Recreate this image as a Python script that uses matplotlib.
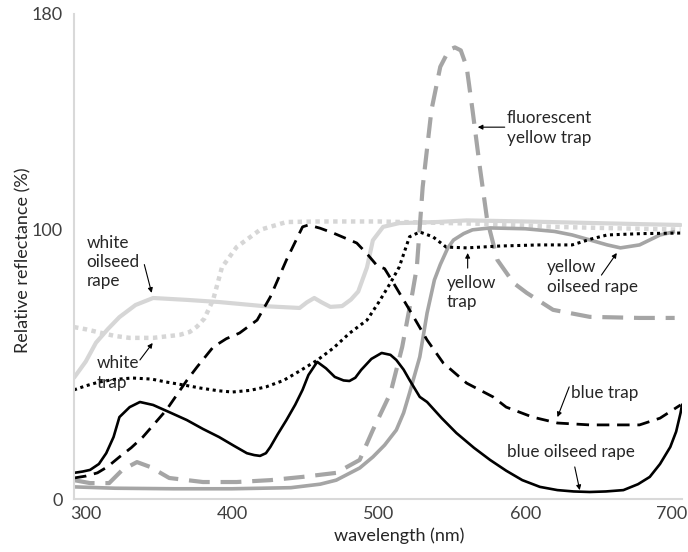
import matplotlib

matplotlib.use("Agg")
import matplotlib.pyplot as plt

plt.rcParams["font.family"] = ["Lato", "DejaVu Sans"]

# white oilseed rape (light grey solid)
wor_wl = [292, 300, 307, 315, 323, 334, 346, 369, 391, 421, 446, 451, 456, 461, 467,
          475, 481, 486, 492, 496, 503, 514, 540, 560, 600, 640, 680, 706]
wor_val = [45, 51, 58, 63, 67.5, 72, 74.6, 73.9, 73.1, 71.6, 70.9, 73, 74.6, 73, 71.3,
           71.6, 74, 77, 86, 96, 101, 102.4, 102.8, 103.4, 103, 102.5, 102, 101.7]

# white trap (light grey dotted)
wt_wl = [292, 300, 311, 320, 330, 346, 364, 371, 376, 381, 387, 393, 403, 419, 437,
         460, 500, 540, 580, 620, 660, 706]
wt_val = [63.8, 63, 61.6, 60.5, 59.8, 59.8, 60.9, 62, 64, 67, 74, 86, 93.5, 99.9, 102.8,
          103, 103, 102.5, 102, 101, 100.5, 100]

# yellow trap (black dotted)
yt_wl = [292, 300, 309, 320, 332, 345, 355, 367, 378, 390, 400, 412, 423, 435, 446,
         458, 469, 480, 492, 500, 508, 514, 521, 528, 537, 546, 560, 583, 610, 632,
         645, 656, 680, 706]
yt_val = [40.5, 42, 43.4, 44.4, 44.9, 44.5, 43.4, 42.3, 41.2, 40.2, 39.7, 40.3, 41.6, 44, 47.5,
          51.5, 56, 61.5, 66.4, 73, 80.2, 86.1, 97.3, 99.1, 97.3, 93.5, 93.2, 93.9, 94.3, 94.3,
          96.5, 98, 98.5, 98.7]

# yellow oilseed rape (mid grey solid)
yor_wl = [292, 320, 360, 400, 440, 460, 471, 487, 496, 504, 512, 517, 521, 528, 533,
          538, 542, 547, 551, 558, 564, 576, 600, 620, 632, 645, 656, 665, 678, 692, 701]
yor_val = [4.5, 4, 3.8, 3.8, 4.2, 5.5, 7, 11.5, 15.6, 20, 25.6, 32, 39.3, 52.7, 69,
           81.3, 87, 93, 96.1, 98.5, 99.9, 100.6, 100.3, 99.3, 98, 96, 94.3, 93.2, 94.3, 98, 99.1]

# fluorescent yellow trap (mid grey dashed)
fyt_wl = [292, 303, 316, 325, 335, 344, 357, 380, 403, 426, 448, 471, 487, 496, 508,
          516, 523, 526, 530, 536, 542, 548, 552, 556, 560, 564, 569, 574, 581, 592,
          601, 619, 644, 678, 702]
fyt_val = [7, 5.9, 5.9, 10.8, 13.7, 11.9, 7.8, 6.3, 6.3, 7, 8.2, 9.7, 14.5, 25.6, 39.3,
           56.4, 76.5, 86, 115.8, 144.4, 160.4, 166.7, 167.6, 166.5, 160.4, 144.4, 123.2, 103.6, 88.7, 80.2,
           76.5, 70.2, 67.6, 67.2, 67.2]

# blue trap (black dashed)
bt_wl = [292, 300, 308, 315, 323, 331, 339, 347, 355, 362, 369, 376, 387, 396, 405,
         417, 426, 437, 448, 452, 460, 469, 485, 492, 499, 504, 510, 521, 533, 544,
         560, 578, 587, 605, 622, 644, 678, 692, 706]
bt_val = [7.8, 8.5, 9.7, 12, 15.6, 19, 23, 28, 33, 38.5, 44, 49, 56.4, 59.5, 61.6,
          66.4, 75, 88.7, 101, 101.7, 100.5, 98.7, 95, 91, 86.5, 85.5, 80.2, 70.2, 59, 50.5,
          43, 37.9, 34.1, 30.4, 28.2, 27.5, 27.5, 30, 34.9]

# blue oilseed rape (black solid)
bor_wl = [292, 298, 303, 309, 314, 319, 323, 330, 337, 346, 358, 369, 380, 391, 401,
          410, 415, 419, 423, 426, 431, 437, 443, 448, 452, 458, 464, 470, 476, 480,
          484, 488, 495, 502, 508, 512, 517, 521, 528, 533, 543, 553, 565, 576, 587,
          598, 610, 622, 633, 644, 655, 667, 677, 685, 692, 699, 703, 706, 707]
bor_val = [9.7, 10.2, 10.8, 13, 17, 23, 30.4, 34.1, 36, 34.9, 32, 29.3, 26, 23, 19.8,
           17, 16.3, 16, 17, 19.3, 24, 29.3, 35, 40.5, 46, 50.9, 48.5, 45.3, 44, 43.8,
           45, 47.9, 52, 54.2, 53.5, 51.6, 48, 44.2, 37.9, 36, 30, 24.5, 19, 14.5, 10.5,
           7, 4.5, 3.3, 2.8, 2.6, 2.8, 3.3, 5.5, 8.2, 13, 19.3, 25, 31.9, 34.9]

LIGHT = "#d6d6d6"
MID = "#a5a5a5"
INK = "#262626"

fig = plt.figure(figsize=(6.88, 5.52), dpi=100)
ax = fig.add_axes([74 / 688, 1 - 499 / 552, 608 / 688, 485 / 552])

ax.plot(wt_wl, wt_val, color=LIGHT, lw=3.2, linestyle=(0, (1, 1)), dash_capstyle="butt")
ax.plot(wor_wl, wor_val, color=LIGHT, lw=3.0, solid_capstyle="round")
ax.plot(yor_wl, yor_val, color=MID, lw=2.6)
ax.plot(fyt_wl, fyt_val, color=MID, lw=3.0, linestyle=(0, (5, 2.6)))
ax.plot(yt_wl, yt_val, color="black", lw=2.2, linestyle=(0, (1, 1.2)))
ax.plot(bt_wl, bt_val, color="black", lw=2.0, linestyle=(0, (4.5, 2.8)))
ax.plot(bor_wl, bor_val, color="black", lw=1.9)

ax.set_xlim(292, 707)
ax.set_ylim(0, 180)
ax.set_xticks([300, 400, 500, 600, 700])
ax.set_yticks([0, 100, 180])
ax.tick_params(length=0, labelsize=13, labelcolor="#404040")
ax.tick_params(axis="y", pad=8)
ax.tick_params(axis="x", pad=5)
for side in ("top", "right"):
    ax.spines[side].set_visible(False)
for side in ("left", "bottom"):
    ax.spines[side].set_color("#d9d9d9")
    ax.spines[side].set_linewidth(1.5)

ax.set_xlabel("wavelength (nm)", fontsize=13, color=INK)
ax.xaxis.set_label_coords(0.535, -0.058)
ax.set_ylabel("Relative reflectance (%)", fontsize=13, color=INK)
ax.yaxis.set_label_coords(-0.07, 0.493)

arrow = dict(arrowstyle="-|>", lw=0.8, color="black", mutation_scale=7, shrinkA=0, shrinkB=0)
txt = dict(fontsize=12.3, color=INK, linespacing=1.25)

ax.text(300.5, 88, "white\noilseed\nrape", va="center", ha="left", **txt)
ax.annotate("", xy=(345, 76.5), xytext=(340, 87), arrowprops=arrow)

ax.text(307.5, 46.8, "white\ntrap", va="center", ha="left", **txt)
ax.annotate("", xy=(345.7, 57.9), xytext=(337, 51.6), arrowprops=arrow)

ax.text(546.4, 76.5, "yellow\ntrap", va="center", ha="left", **txt)
ax.annotate("", xy=(560.7, 91.3), xytext=(560.7, 85.7), arrowprops=arrow)

ax.text(614.7, 82.4, "yellow\noilseed rape", va="center", ha="left", **txt)
ax.annotate("", xy=(662.5, 91.3), xytext=(652, 83.1), arrowprops=arrow)

ax.text(587.4, 137.7, "fluorescent\nyellow trap", va="center", ha="left", **txt)
ax.annotate("", xy=(567.6, 138), xytext=(586, 138), arrowprops=arrow)

ax.text(631, 39.3, "blue trap", va="center", ha="left", **txt)
ax.annotate("", xy=(622, 30.4), xytext=(630, 41.6), arrowprops=arrow)

ax.text(587.4, 17.4, "blue oilseed rape", va="center", ha="left", **txt)
ax.annotate("", xy=(637.2, 3.3), xytext=(633.8, 11.9), arrowprops=arrow)

fig.savefig("out.png", dpi=100)
